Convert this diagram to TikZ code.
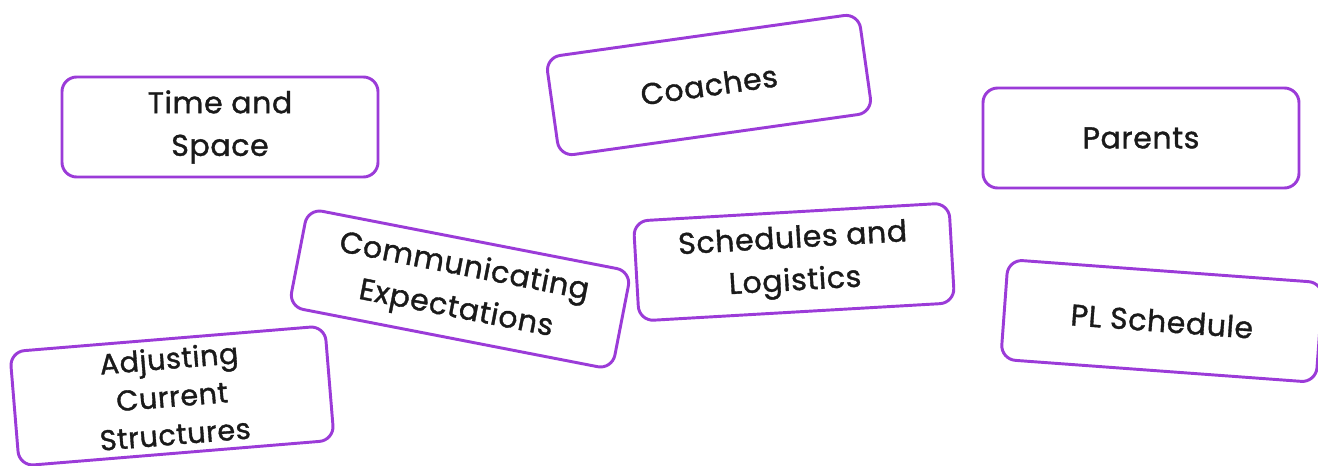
\documentclass[tikz,border=0pt]{standalone}
\usepackage{fontspec}
\setmainfont{Poppins}
\newfontfamily\cardfont{Poppins}[FakeBold=1.2,LetterSpace=2]
\usetikzlibrary{positioning}
\definecolor{cardpurple}{HTML}{9B3BD8}
\definecolor{cardtext}{HTML}{1A1A1A}

\begin{document}
\begin{tikzpicture}[x=0.75pt,y=-0.75pt,
  card/.style={rectangle,rounded corners=11pt,draw=cardpurple,line width=2.2pt,
               fill=white,minimum width=237pt,minimum height=75pt,inner sep=0pt,
               align=center,text=cardtext,
               font=\cardfont\fontsize{22.5}{32}\selectfont},
  tallcard/.style={card,minimum height=86pt,font=\cardfont\fontsize{21.5}{28.5}\selectfont}
]
\useasboundingbox[fill=white] (0,0) rectangle (1318,465);

% ---- Top row ----------------------------------------------
\node[card]            (time)    at (220,127)  {Time and\\Space};
\node[card,rotate=8]   (coaches) at (709,85)   {Coaches};
\node[card]            (parents) at (1141,138) {Parents};

% ---- Middle row -------------------------------------------
\node[card,rotate=-11,minimum width=247pt] (comm) at (460,289) {Communicating\\Expectations};
\node[card,rotate=3.3] (sched)   at (794,262)  {Schedules and\\Logistics};
\node[card,rotate=-4.2] (plsched) at (1162,321) {PL Schedule};

% ---- Bottom left ------------------------------------------
\node[tallcard,rotate=4.7] (adjust) at (172,396) {Adjusting\\Current\\Structures};

\end{tikzpicture}
\end{document}
